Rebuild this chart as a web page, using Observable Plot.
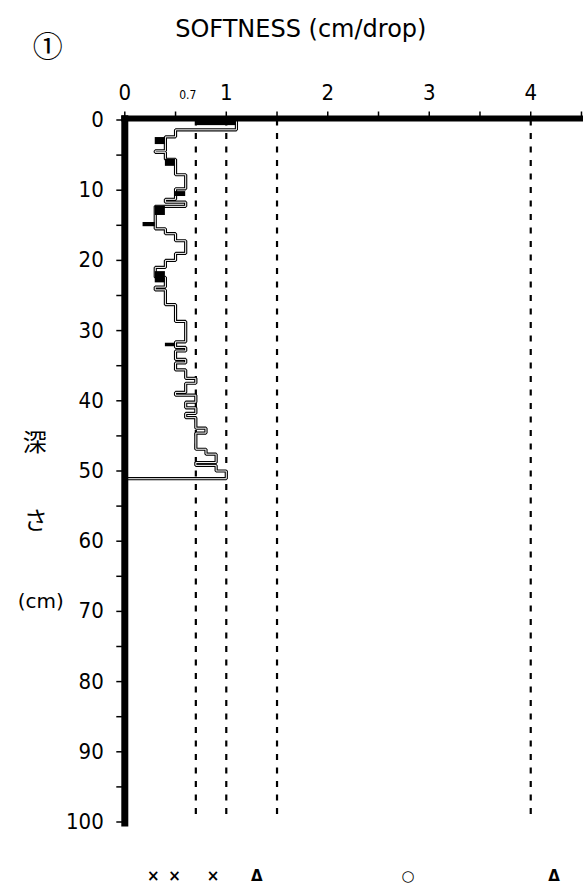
<!DOCTYPE html>
<html><head><meta charset="utf-8">
<script src="https://cdn.jsdelivr.net/npm/d3@7"></script>
<script src="https://cdn.jsdelivr.net/npm/@observablehq/plot@0.6"></script>
<style>body{margin:0;background:#fff;} svg{display:block}</style>
</head><body><div id="chart"></div>
<script>
// Softness profile: step intervals (depth cm) and softness (cm/drop)
const depthFrom = [0, 1.4, 2.4, 4.4, 4.6, 5.6, 7.8, 9.8, 11.3, 11.7, 12.3, 15.5, 16.2, 17.2, 19.0, 20.0, 21.0, 22.4, 23.8, 24.2, 26.3, 28.7, 31.6, 32.4, 32.9, 34.1, 34.6, 35.6, 36.8, 37.5, 38.8, 39.2, 40.2, 41.0, 41.8, 42.4, 43.9, 44.6, 46.9, 47.6, 48.8, 49.2, 50.0];
const depthTo   = [1.4, 2.4, 4.4, 4.6, 5.6, 7.8, 9.8, 11.3, 11.7, 12.3, 15.5, 16.2, 17.2, 19.0, 20.0, 21.0, 22.4, 23.8, 24.2, 26.3, 28.7, 31.6, 32.4, 32.9, 34.1, 34.6, 35.6, 36.8, 37.5, 38.8, 39.2, 40.2, 41.0, 41.8, 42.4, 43.9, 44.6, 46.9, 47.6, 48.8, 49.2, 50.0, 51.1];
const softness  = [1.1, 0.5, 0.4, 0.3, 0.4, 0.5, 0.6, 0.5, 0.4, 0.6, 0.3, 0.4, 0.5, 0.6, 0.5, 0.4, 0.3, 0.4, 0.3, 0.4, 0.5, 0.6, 0.5, 0.6, 0.5, 0.6, 0.5, 0.6, 0.7, 0.6, 0.5, 0.7, 0.6, 0.7, 0.6, 0.7, 0.8, 0.7, 0.8, 0.9, 0.7, 0.9, 1.0];

// dense (filled) segments of the profile
const blockDepthFrom = [0, 2.5, 5.6, 10.2, 12.3, 14.6, 21.6, 31.8];
const blockDepthTo   = [0.8, 3.5, 6.6, 10.9, 13.6, 15.2, 23.2, 32.3];
const blockLow       = [0.7, 0.3, 0.4, 0.5, 0.3, 0.18, 0.3, 0.4];
const blockHigh      = [1.1, 0.4, 0.5, 0.6, 0.4, 0.3, 0.4, 0.5];

const thresholds = [0.7, 1, 1.5, 4];
const xTickMarks = [0, 0.5, 1, 1.5, 2, 2.5, 3, 3.5, 4, 4.5];
const xTickLabels = [0, 1, 2, 3, 4];
const yTickMarks = [0,5,10,15,20,25,30,35,40,45,50,55,60,65,70,75,80,85,90,95,100];
const yTickLabels = [0,10,20,30,40,50,60,70,80,90,100];
const classPos  = [0.28, 0.49, 0.87, 1.30, 2.79, 4.23];
const classText = ["×", "×", "×", "Δ", "○", "Δ"];

const profile = [];
depthFrom.forEach((d0, i) => {
  profile.push({v: softness[i], d: d0}, {v: softness[i], d: depthTo[i]});
});
profile.push({v: 0, d: depthTo[depthTo.length - 1]});

const blocks = blockDepthFrom.map((d, i) => ({d1: d, d2: blockDepthTo[i], v1: blockLow[i], v2: blockHigh[i]}));

const numFont = "'Liberation Sans Narrow', 'DejaVu Sans Condensed', sans-serif";
const jpFont = "'Noto Sans CJK JP', sans-serif";

const chart = Plot.plot({
  width: 583,
  height: 891,
  marginLeft: 124.3,
  marginRight: 0,
  marginTop: 119.5,
  marginBottom: 69.5,
  style: {background: "#fff", overflow: "visible"},
  x: {domain: [0, 4.52], axis: null},
  y: {domain: [0, 100], reverse: true, axis: null},
  marks: [
    Plot.ruleX(thresholds, {y1: 0, y2: 100, stroke: "#000", strokeWidth: 2.2, strokeDasharray: "6,7.5"}),
    Plot.line(profile, {x: "v", y: "d", stroke: "#000", strokeWidth: 3.2, strokeLinejoin: "miter", curve: "linear"}),
    Plot.line(profile, {x: "v", y: "d", stroke: "#fff", strokeWidth: 1.0, strokeLinejoin: "miter", curve: "linear"}),
    Plot.rect(blocks, {x1: "v1", x2: "v2", y1: "d1", y2: "d2", fill: "#000"}),
    Plot.ruleY([0], {x1: -0.03, x2: 4.52, stroke: "#000", strokeWidth: 6, dy: -1.5}),
    Plot.ruleX([0], {y1: -0.6, y2: 100.7, stroke: "#000", strokeWidth: 7}),
    Plot.axisX(xTickMarks, {anchor: "top", tickSize: 9, tickFormat: () => "", strokeWidth: 1.5}),
    Plot.axisY(yTickMarks, {anchor: "left", tickSize: 8, tickFormat: () => "", strokeWidth: 1.5}),
    Plot.text(xTickLabels, {x: d => d, text: d => String(d), frameAnchor: "top", dy: -27, lineAnchor: "middle", fontSize: 22, fontFamily: numFont}),
    Plot.text([0.7], {x: d => d - 0.08, text: ["0.7"], frameAnchor: "top", dy: -25, lineAnchor: "middle", fontSize: 12, fontFamily: numFont}),
    Plot.text(yTickLabels, {y: d => d, text: d => String(d), frameAnchor: "left", dx: -21, textAnchor: "end", lineAnchor: "middle", fontSize: 22, fontFamily: numFont}),
    Plot.text(classPos, {x: d => d, text: classText, frameAnchor: "bottom", dy: 54, lineAnchor: "middle", fontSize: 15, fontWeight: "bold", fontFamily: "DejaVu Sans, sans-serif"}),
    Plot.text(["SOFTNESS (cm/drop)"], {frameAnchor: "top-left", textAnchor: "middle", dx: 176, dy: -91, lineAnchor: "middle", fontSize: 24, fontFamily: "DejaVu Sans, sans-serif", letterSpacing: 1.2}),
    Plot.text(["①"], {frameAnchor: "top-left", textAnchor: "middle", dx: -77, dy: -73, lineAnchor: "middle", fontSize: 30, fontFamily: jpFont}),
    Plot.text(["深"], {frameAnchor: "top-left", textAnchor: "middle", dx: -90, dy: 323.5, lineAnchor: "middle", fontSize: 24, fontFamily: jpFont}),
    Plot.text(["さ"], {frameAnchor: "top-left", textAnchor: "middle", dx: -89, dy: 401.5, lineAnchor: "middle", fontSize: 24, fontFamily: jpFont}),
    Plot.text(["(cm)"], {frameAnchor: "top-left", textAnchor: "middle", dx: -84, dy: 482, lineAnchor: "middle", fontSize: 20, fontFamily: "DejaVu Sans, sans-serif"})
  ]
});
document.getElementById("chart").appendChild(chart);
</script>
</body></html>
